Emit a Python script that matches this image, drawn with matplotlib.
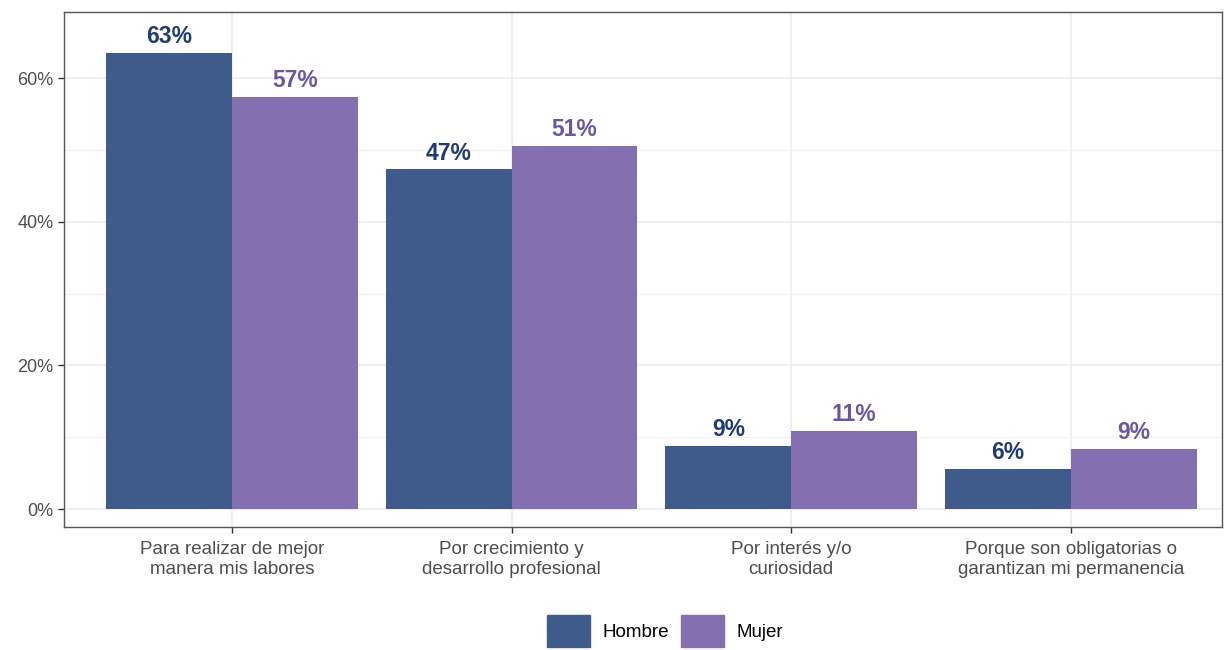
import matplotlib.pyplot as plt
import matplotlib.patches as mpatches
import numpy as np

plt.rcParams["font.family"] = ["Liberation Sans", "DejaVu Sans"]

categories = [
    "Para realizar de mejor\nmanera mis labores",
    "Por crecimiento y\ndesarrollo profesional",
    "Por interés y/o\ncuriosidad",
    "Porque son obligatorias o\ngarantizan mi permanencia",
]
hombre = [63.5, 47.3, 8.8, 5.6]
mujer = [57.4, 50.6, 10.9, 8.4]
hombre_labels = ["63%", "47%", "9%", "6%"]
mujer_labels = ["57%", "51%", "11%", "9%"]

c_hombre = "#3f5b8c"
c_mujer = "#8470b0"
t_hombre = "#1f3a78"
t_mujer = "#6a55a6"

fig = plt.figure(figsize=(12.25, 6.5), dpi=100)
ax = fig.add_axes([0.0522, 0.189, 0.9454, 0.7925])

x = np.arange(len(categories))
w = 0.45
ax.bar(x - w / 2, hombre, w, color=c_hombre, zorder=3)
ax.bar(x + w / 2, mujer, w, color=c_mujer, zorder=3)

for xi, v, lab in zip(x, hombre, hombre_labels):
    ax.annotate(lab, (xi - w / 2, v), xytext=(0, 3.5), textcoords="offset points",
                ha="center", va="bottom", fontsize=16.5, fontweight="bold", color=t_hombre, zorder=4)
for xi, v, lab in zip(x, mujer, mujer_labels):
    ax.annotate(lab, (xi + w / 2, v), xytext=(0, 3.5), textcoords="offset points",
                ha="center", va="bottom", fontsize=16.5, fontweight="bold", color=t_mujer, zorder=4)

ax.set_xlim(-0.6, 3.54)
ax.set_ylim(-2.5, 69.2)
ax.set_yticks([0, 20, 40, 60])
ax.set_yticklabels(["0%", "20%", "40%", "60%"])
ax.set_yticks([10, 30, 50], minor=True)
ax.set_xticks(x)
ax.set_xticklabels(categories, linespacing=1.25)

ax.grid(True, which="major", color="#ebebeb", linewidth=1.1, zorder=0)
ax.grid(True, which="minor", axis="y", color="#f0f0f0", linewidth=0.8, zorder=0)
ax.tick_params(axis="both", which="major", labelsize=13, labelcolor="#4d4d4d",
               color="#333333", length=4, width=1)
ax.tick_params(axis="x", which="major", labelsize=13.5, pad=6)
ax.tick_params(axis="y", which="minor", length=0)
for s in ax.spines.values():
    s.set_color("#555555")
    s.set_linewidth(1)

handles = [mpatches.Patch(color=c_hombre, label="Hombre"),
           mpatches.Patch(color=c_mujer, label="Mujer")]
fig.legend(handles=handles, loc="lower center", ncol=2, frameon=False,
           bbox_to_anchor=(0.543, -0.022), fontsize=13.5, handlelength=2.3,
           handleheight=2.3, handletextpad=0.7, columnspacing=0.6)

fig.savefig("out.png", dpi=100)
